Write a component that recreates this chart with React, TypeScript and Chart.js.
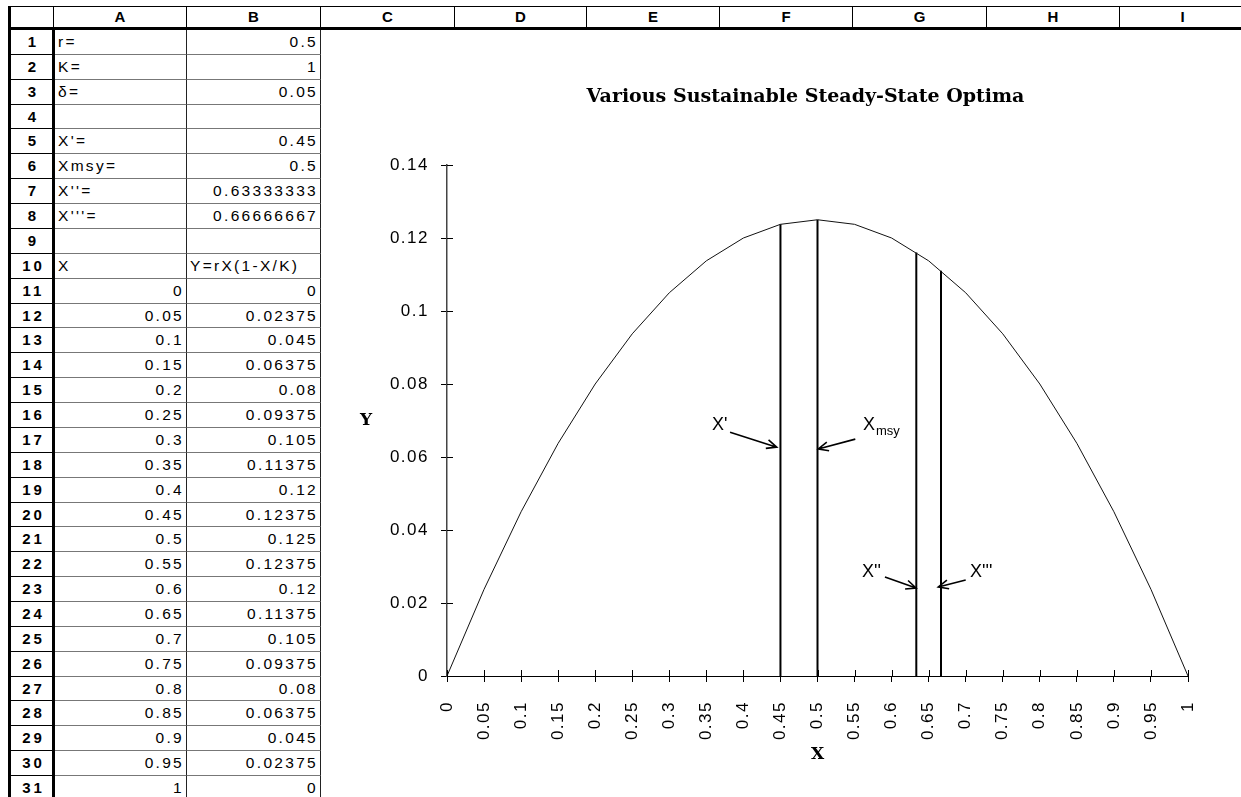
import React, { useEffect, useRef } from "react";
import { Chart, registerables } from "chart.js";

Chart.register(...registerables);

// ---------- data ----------
const columnLetters = ["A", "B", "C", "D", "E", "F", "G", "H", "I"];
const paramLabels = ["r=", "K=", "δ=", "", "X'=", "Xmsy=", "X''=", "X'''=", "", "X"];
const paramValues = ["0.5", "1", "0.05", "", "0.45", "0.5", "0.63333333", "0.66666667", "", "Y=rX(1-X/K)"];
const xValues = [0, 0.05, 0.1, 0.15, 0.2, 0.25, 0.3, 0.35, 0.4, 0.45, 0.5, 0.55, 0.6, 0.65, 0.7, 0.75, 0.8, 0.85, 0.9, 0.95, 1];
const yValues = [0, 0.02375, 0.045, 0.06375, 0.08, 0.09375, 0.105, 0.11375, 0.12, 0.12375, 0.125, 0.12375, 0.12, 0.11375, 0.105, 0.09375, 0.08, 0.06375, 0.045, 0.02375, 0];
const yTicks = [0, 0.02, 0.04, 0.06, 0.08, 0.1, 0.12, 0.14];

const optimaNames = ["X'", "X", "X''", "X'''"];
const optimaSubs = ["", "msy", "", ""];
const optimaX = [0.45, 0.5, 0.63333333, 0.66666667];
const optimaTop = [0.12375, 0.125, 0.116, 0.111];
const labelLeftX = [0.3576, 0.5614, 0.56, 0.7058];
const labelMidY = [0.0688, 0.0688, 0.0285, 0.0285];
const arrowTailX = [0.382, 0.551, 0.591, 0.7];
const arrowTailY = [0.0668, 0.0649, 0.0271, 0.0263];
const arrowTipX = [0.445, 0.501, 0.633, 0.663];
const arrowTipY = [0.0627, 0.0622, 0.0241, 0.0244];

const chartTitle = "Various Sustainable Steady-State Optima";

// ---------- layout constants ----------
const colEdges = [8, 53, 186, 320, 454, 586, 719, 852, 986, 1119, 1245];
const headerTop = 6;
const headerBottom = 30;
const rowH = 24.87;
const rowCount = 31;
const SANS = '"Liberation Sans", Arial, Helvetica, sans-serif';
const SERIF = '"DejaVu Serif", "Liberation Serif", serif';

function fmt(v: number) {
  return String(+Number(v).toFixed(8));
}

function Sheet() {
  const cells: React.ReactNode[] = [];
  cells.push(
    <div key="hdr-line-top" style={{ position: "absolute", left: colEdges[0], top: headerTop, width: 1241 - colEdges[0], height: 0, borderTop: "1.5px solid #000" }} />
  );
  cells.push(
    <div key="hdr-line-bot" style={{ position: "absolute", left: colEdges[0], top: headerBottom - 3, width: 1241 - colEdges[0], height: 0, borderTop: "3px solid #000" }} />
  );
  for (let c = 0; c < colEdges.length - 1; c++) {
    const left = colEdges[c];
    const w = colEdges[c + 1] - left;
    cells.push(
      <div
        key={"hdr" + c}
        style={{
          position: "absolute",
          left,
          top: headerTop,
          width: w,
          height: headerBottom - headerTop - 2,
          borderLeft: c === 0 ? "3px solid #000" : "1px solid #000",
          boxSizing: "border-box",
          font: `bold 15px ${SANS}`,
          textAlign: "center",
          lineHeight: headerBottom - headerTop - 2 + "px",
          color: "#000",
        }}
      >
        {c === 0 ? "" : columnLetters[c - 1]}
      </div>
    );
  }
  for (let r = 1; r <= rowCount; r++) {
    const top = headerBottom + (r - 1) * rowH;
    cells.push(
      <div
        key={"rn" + r}
        style={{
          position: "absolute",
          left: colEdges[0],
          top,
          width: colEdges[1] - colEdges[0] + 2,
          height: rowH,
          boxSizing: "border-box",
          borderLeft: "3px solid #000",
          borderRight: "3px solid #000",
          borderBottom: "1.5px solid #000",
          font: `bold 15px ${SANS}`,
          letterSpacing: "3px",
          textAlign: "center",
          lineHeight: rowH + "px",
          paddingLeft: 4,
          color: "#000",
        }}
      >
        {r}
      </div>
    );
    let aText = "";
    let bText = "";
    let aAlign: "left" | "right" = "left";
    let bAlign: "left" | "right" = "right";
    if (r <= 10) {
      aText = paramLabels[r - 1];
      bText = paramValues[r - 1];
      if (r === 10) bAlign = "left";
    } else {
      aText = fmt(xValues[r - 11]);
      bText = fmt(yValues[r - 11]);
      aAlign = "right";
    }
    const cellStyle = (left: number, w: number, align: "left" | "right"): React.CSSProperties => ({
      position: "absolute",
      left,
      top,
      width: w,
      height: rowH,
      boxSizing: "border-box",
      borderRight: "1px solid #222",
      borderBottom: "1px solid #777",
      font: `15.5px ${SANS}`,
      letterSpacing: "2.3px",
      textAlign: align,
      lineHeight: rowH + "px",
      paddingLeft: 3,
      paddingRight: 2,
      color: "#000",
      whiteSpace: "nowrap",
      overflow: "hidden",
    });
    cells.push(
      <div key={"a" + r} style={cellStyle(colEdges[1] + 2, colEdges[2] - colEdges[1] - 1, aAlign)}>
        {aText}
      </div>
    );
    cells.push(
      <div key={"b" + r} style={cellStyle(colEdges[2] + 1, colEdges[3] - colEdges[2], bAlign)}>
        {bText}
      </div>
    );
  }
  return <>{cells}</>;
}

export default function App() {
  const canvasRef = useRef<HTMLCanvasElement>(null);

  useEffect(() => {
    const canvas = canvasRef.current!;

    const spacingPlugin = {
      id: "spacing",
      afterDatasetsDraw(chart: any) {
        (chart.ctx as any).letterSpacing = "1.5px";
      },
      afterDraw(chart: any) {
        (chart.ctx as any).letterSpacing = "0px";
      },
    };

    const decorPlugin = {
      id: "decor",
      afterDraw(chart: any) {
        const ctx = chart.ctx as CanvasRenderingContext2D;
        const xs = chart.scales.x;
        const ys = chart.scales.y;
        const area = chart.chartArea;
        ctx.save();
        (ctx as any).letterSpacing = "0px";
        // inner halves of tick marks (ticks cross the axes)
        ctx.strokeStyle = "#000";
        ctx.lineWidth = 1;
        ctx.beginPath();
        xs.ticks.forEach((t: any) => {
          const px = Math.round(xs.getPixelForValue(t.value)) + 0.5;
          ctx.moveTo(px, area.bottom);
          ctx.lineTo(px, area.bottom - 6);
        });
        ys.ticks.forEach((t: any) => {
          const py = Math.round(ys.getPixelForValue(t.value)) + 0.5;
          ctx.moveTo(area.left, py);
          ctx.lineTo(area.left + 6, py);
        });
        ctx.stroke();

        ctx.fillStyle = "#000";
        // chart title
        ctx.font = `bold 19px ${SERIF}`;
        ctx.textAlign = "center";
        ctx.textBaseline = "middle";
        ctx.fillText(chartTitle, (area.left + area.right) / 2 - 12, area.top - 68);

        // upright Y axis title
        ctx.font = `bold 17px ${SERIF}`;
        ctx.fillText("Y", area.left - 81, (area.top + area.bottom) / 2);

        // annotations
        for (let i = 0; i < optimaNames.length; i++) {
          const lx = xs.getPixelForValue(labelLeftX[i]);
          const ly = ys.getPixelForValue(labelMidY[i]);
          ctx.font = `18px ${SANS}`;
          ctx.textAlign = "left";
          ctx.textBaseline = "middle";
          ctx.fillText(optimaNames[i], lx, ly);
          if (optimaSubs[i]) {
            const w = ctx.measureText(optimaNames[i]).width;
            ctx.font = `13px ${SANS}`;
            ctx.fillText(optimaSubs[i], lx + w + 1, ly + 7);
          }
          const tx = xs.getPixelForValue(arrowTailX[i]);
          const ty = ys.getPixelForValue(arrowTailY[i]);
          const hx = xs.getPixelForValue(arrowTipX[i]);
          const hy = ys.getPixelForValue(arrowTipY[i]);
          const ang = Math.atan2(hy - ty, hx - tx);
          const L = 11;
          const spread = 0.42;
          ctx.lineWidth = 1.6;
          ctx.beginPath();
          ctx.moveTo(tx, ty);
          ctx.lineTo(hx, hy);
          ctx.moveTo(hx - L * Math.cos(ang - spread), hy - L * Math.sin(ang - spread));
          ctx.lineTo(hx, hy);
          ctx.lineTo(hx - L * Math.cos(ang + spread), hy - L * Math.sin(ang + spread));
          ctx.stroke();
        }
        ctx.restore();
      },
    };

    const curve = {
      data: xValues.map((x, i) => ({ x, y: yValues[i] })),
      borderColor: "#111",
      borderWidth: 1,
      pointRadius: 0,
      tension: 0,
      fill: false,
    };
    const verticals = optimaX.map((x, i) => ({
      data: [
        { x, y: 0 },
        { x, y: optimaTop[i] },
      ],
      borderColor: "#000",
      borderWidth: 2,
      pointRadius: 0,
      tension: 0,
      fill: false,
    }));

    const tickFont = { family: SANS, size: 17 };
    const fmtTick = (v: any) => String(+Number(v).toFixed(2));

    const chart = new Chart(canvas, {
      type: "line",
      data: { datasets: [curve, ...verticals] as any },
      options: {
        animation: false,
        responsive: false,
        devicePixelRatio: 1,
        layout: { padding: { left: 40, right: 53, top: 135, bottom: 32 } },
        plugins: {
          legend: { display: false },
          tooltip: { enabled: false },
          title: { display: false },
        },
        scales: {
          x: {
            type: "linear",
            min: 0,
            max: 1,
            afterBuildTicks: (s: any) => {
              s.ticks = xValues.map((v) => ({ value: v }));
            },
            afterFit: (s: any) => {
              s.height = 89;
            },
            ticks: {
              autoSkip: false,
              minRotation: 90,
              maxRotation: 90,
              padding: 19,
              color: "#000",
              font: tickFont,
              callback: fmtTick,
              z: 1,
            },
            grid: { drawOnChartArea: false, tickLength: 6, color: "#000", lineWidth: 1 },
            border: { color: "#000", width: 1 },
            title: {
              display: true,
              text: "X",
              color: "#000",
              font: { family: SERIF, size: 17, weight: "bold" },
              padding: 0,
            },
          },
          y: {
            type: "linear",
            min: 0,
            max: 0.14,
            afterBuildTicks: (s: any) => {
              s.ticks = yTicks.map((v) => ({ value: v }));
            },
            afterFit: (s: any) => {
              s.width = 87;
            },
            ticks: {
              padding: 12,
              color: "#000",
              font: tickFont,
              callback: fmtTick,
              z: 1,
            },
            grid: { drawOnChartArea: false, tickLength: 6, color: "#000", lineWidth: 1 },
            border: { color: "#444", width: 1.5 },
          },
        },
      } as any,
      plugins: [spacingPlugin, decorPlugin],
    });
    return () => chart.destroy();
  }, []);

  return (
    <div style={{ position: "fixed", left: 0, top: 0, width: 1241, height: 797, overflow: "hidden", background: "#fff" }}>
      <Sheet />
      <canvas
        ref={canvasRef}
        width={921}
        height={767}
        style={{ position: "absolute", left: 320, top: 30, width: 921, height: 767 }}
      />
    </div>
  );
}
